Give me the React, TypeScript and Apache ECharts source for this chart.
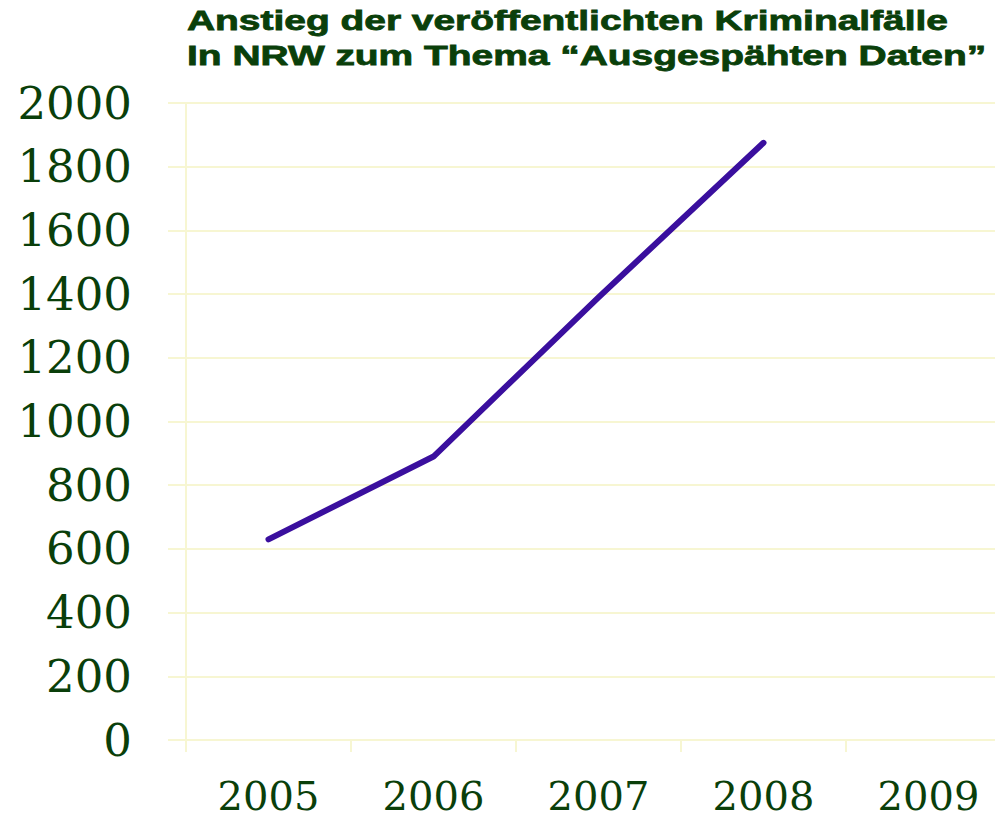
import React, { useEffect, useRef } from "react";
import * as echarts from "echarts";

const years = ["2005", "2006", "2007", "2008", "2009"];
const cases: (number | null)[] = [630, 890, 1390, 1875, null];
const titleLines = [
  "Anstieg der veröffentlichten Kriminalfälle",
  "In NRW zum Thema \u201CAusgespähten Daten\u201D",
];

export default function App() {
  const ref = useRef<HTMLDivElement>(null);
  useEffect(() => {
    if (!ref.current) return;
    const chart = echarts.init(ref.current, null, { renderer: "svg" });
    const green = "#0a3f0a";
    const pale = "#f7f6d2";
    chart.setOption({
      animation: false,
      backgroundColor: "#ffffff",
      graphic: titleLines.map((t, i) => ({
        type: "text",
        x: 187,
        y: 6 + i * 35,
        scaleX: 1.39,
        style: {
          text: t,
          fill: green,
          stroke: green,
          lineWidth: 0.8,
          font: "bold 28px 'Liberation Sans', Arial, sans-serif",
        },
      })),
      grid: { left: 186, top: 103, bottom: 78, width: 825, outerBoundsMode: "none" },
      xAxis: {
        type: "category",
        data: years,
        boundaryGap: true,
        axisLine: { lineStyle: { color: pale, width: 2 } },
        axisTick: { show: true, length: 12, lineStyle: { color: pale, width: 2 } },
        axisLabel: {
          color: green,
          fontFamily: "'DejaVu Serif', serif",
          fontSize: 40,
          lineHeight: 38,
          margin: 37,
        },
        splitLine: { show: false },
      },
      yAxis: {
        type: "value",
        min: 0,
        max: 2000,
        interval: 200,
        axisLine: { show: true, lineStyle: { color: pale, width: 2 } },
        axisTick: { show: true, length: 18, lineStyle: { color: pale, width: 2 } },
        axisLabel: {
          color: green,
          fontFamily: "'DejaVu Serif', serif",
          fontSize: 45,
          margin: 54,
          formatter: (v: number) => String(v),
        },
        splitLine: { show: true, lineStyle: { color: pale, width: 2 } },
      },
      series: [
        {
          type: "line",
          data: cases,
          showSymbol: false,
          symbol: "none",
          lineStyle: { color: "#3a0f9e", width: 6, cap: "round", join: "round" },
        },
      ],
    });
    return () => chart.dispose();
  }, []);
  return (
    <div
      ref={ref}
      style={{ position: "absolute", left: 0, top: 0, width: 995, height: 818 }}
    />
  );
}
